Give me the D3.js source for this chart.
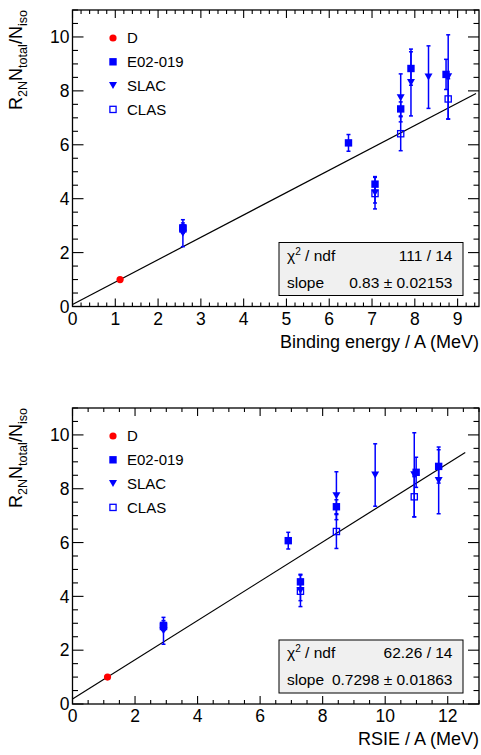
<!DOCTYPE html>
<html><head><meta charset="utf-8">
<script src="https://cdn.jsdelivr.net/npm/d3@7"></script>
<style>
body{margin:0;background:#fff}
text{font-family:"Liberation Sans",Arial,Helvetica,sans-serif;fill:#000}
</style>
</head><body>
<svg id="chart" width="481" height="755"></svg>
<script>
// ---------------- DATA ----------------
const seriesNames = ["D", "E02-019", "SLAC", "CLAS"];

const D_nuclei   = ["D"];
const D_binding  = [1.112];
const D_rsie     = [1.12];
const D_value    = [1.0];
const D_err      = [0.0];

const E02_nuclei  = ["3He", "4He", "Be", "C", "Cu", "Au"];
const E02_binding = [2.58, 7.07, 6.45, 7.67, 8.73, 7.91];
const E02_rsie    = [2.91, 7.29, 6.90, 8.44, 10.99, 11.71];
const E02_value   = [2.92, 4.54, 6.07, 7.33, 8.61, 8.83];
const E02_err     = [0.18, 0.25, 0.31, 0.26, 0.56, 0.62];

const SLAC_nuclei  = ["3He", "4He", "C", "Al", "Fe", "Au"];
const SLAC_binding = [2.58, 7.07, 7.67, 8.32, 8.78, 7.91];
const SLAC_rsie    = [2.91, 7.29, 8.44, 9.68, 10.93, 11.71];
const SLAC_value   = [2.72, 4.22, 7.74, 8.51, 8.52, 8.31];
const SLAC_err     = [0.50, 0.60, 0.89, 1.16, 1.56, 1.24];

const CLAS_nuclei  = ["3He", "4He", "C", "Fe"];
const CLAS_binding = [2.58, 7.07, 7.67, 8.78];
const CLAS_rsie    = [2.91, 7.29, 8.44, 10.93];
const CLAS_value   = [2.88, 4.19, 6.41, 7.70];
const CLAS_err     = [0.15, 0.35, 0.63, 0.75];

// fit: y = 1 + slope * (x - x_D)
const fitSlope   = [0.83, 0.7298];
const fitAnchorX = [1.112, 1.12];
const fitXmin    = [0, 0];
const fitXmax    = [9.43, 12.56];

const statChi2   = ["111 / 14", "62.26 / 14"];
const statSlope  = ["0.83 \u00b1 0.02153", "0.7298 \u00b1 0.01863"];

const xTitles    = ["Binding energy / A (MeV)", "RSIE / A (MeV)"];
const xDomains   = [[0, 9.5], [0, 13]];
const xMajor     = [[0,1,2,3,4,5,6,7,8,9], [0,2,4,6,8,10,12]];
const xMinorStep = [0.2, 0.5];
const yDomain    = [0, 11];
const yMajor     = [0, 2, 4, 6, 8, 10];
const yMinorStep = 0.5;

// ---------------- DRAW ----------------
const svg = d3.select("#chart");
const FONT_TICK = 17.5, FONT_TITLE = 18, FONT_LEG = 15, FONT_STAT = 15.5;
const panels = [
  {left: 72.5, right: 479, top: 10,  bottom: 306.5},
  {left: 72.5, right: 479, top: 408, bottom: 704}
];

function seriesFor(p) {
  const xs = p === 0 ? [D_binding, E02_binding, SLAC_binding, CLAS_binding]
                     : [D_rsie, E02_rsie, SLAC_rsie, CLAS_rsie];
  const vals = [D_value, E02_value, SLAC_value, CLAS_value];
  const errs = [D_err, E02_err, SLAC_err, CLAS_err];
  const nuc = [D_nuclei, E02_nuclei, SLAC_nuclei, CLAS_nuclei];
  return seriesNames.map((name, i) => ({
    name,
    pts: nuc[i].map((n, j) => ({n, x: xs[i][j], y: vals[i][j], e: errs[i][j]}))
  }));
}

function minorTicks(domain, step) {
  const out = [];
  for (let v = domain[0]; v <= domain[1] + 1e-9; v += step) out.push(+v.toFixed(4));
  return out;
}

const markerStyle = {
  "D":       {shape: "circle",   color: "#ff0000", fill: true},
  "E02-019": {shape: "square",   color: "#0000ff", fill: true},
  "SLAC":    {shape: "triangle", color: "#0000ff", fill: true},
  "CLAS":    {shape: "square",   color: "#0000ff", fill: false}
};

function drawMarker(g, name, cx, cy) {
  const st = markerStyle[name];
  if (st.shape === "circle") {
    g.append("circle").attr("cx", cx).attr("cy", cy).attr("r", 3.6).attr("fill", st.color);
  } else if (st.shape === "square") {
    const s = 7.4;
    if (st.fill) g.append("rect").attr("x", cx - s/2).attr("y", cy - s/2).attr("width", s).attr("height", s).attr("fill", st.color);
    else g.append("rect").attr("x", cx - s/2 + 0.6).attr("y", cy - s/2 + 0.6).attr("width", s - 1.2).attr("height", s - 1.2)
           .attr("fill", "none").attr("stroke", st.color).attr("stroke-width", 1.3);
  } else {
    const w = 8, h = 7;
    g.append("path").attr("d", `M${cx - w/2},${cy - h/2}L${cx + w/2},${cy - h/2}L${cx},${cy + h/2}Z`).attr("fill", st.color);
  }
}

panels.forEach((P, p) => {
  const x = d3.scaleLinear().domain(xDomains[p]).range([P.left, P.right]);
  const y = d3.scaleLinear().domain(yDomain).range([P.bottom, P.top]);
  const g = svg.append("g");

  const xmin = minorTicks(xDomains[p], xMinorStep[p]);
  const ymin = minorTicks(yDomain, yMinorStep);
  const XMAJ = 8, XMIN = 4, YMAJ = 11, YMIN = 5.5;

  const ax = g.append("g").attr("stroke", "#000").attr("stroke-width", 1.1);
  xmin.forEach(v => {
    const isMaj = xMajor[p].some(m => Math.abs(m - v) < 1e-6);
    const L = isMaj ? XMAJ : XMIN;
    ax.append("line").attr("x1", x(v)).attr("x2", x(v)).attr("y1", P.bottom).attr("y2", P.bottom - L);
    ax.append("line").attr("x1", x(v)).attr("x2", x(v)).attr("y1", P.top).attr("y2", P.top + L);
  });
  ymin.forEach(v => {
    const isMaj = yMajor.some(m => Math.abs(m - v) < 1e-6);
    const L = isMaj ? YMAJ : YMIN;
    ax.append("line").attr("y1", y(v)).attr("y2", y(v)).attr("x1", P.left).attr("x2", P.left + L);
    ax.append("line").attr("y1", y(v)).attr("y2", y(v)).attr("x1", P.right).attr("x2", P.right - L);
  });

  g.append("rect").attr("x", P.left).attr("y", P.top).attr("width", P.right - P.left).attr("height", P.bottom - P.top)
    .attr("fill", "none").attr("stroke", "#000").attr("stroke-width", 1.3);

  xMajor[p].forEach(v => {
    g.append("text").attr("x", x(v)).attr("y", P.bottom + 18).attr("text-anchor", "middle")
      .attr("font-size", FONT_TICK).text(v);
  });
  yMajor.forEach(v => {
    g.append("text").attr("x", P.left - 3).attr("y", y(v) + 6.3).attr("text-anchor", "end")
      .attr("font-size", FONT_TICK).text(v);
  });

  g.append("text").attr("x", P.right).attr("y", P.bottom + 41).attr("text-anchor", "end")
    .attr("font-size", FONT_TITLE).text(xTitles[p]);
  const yt = g.append("text").attr("transform", `translate(22,${P.top}) rotate(-90)`)
    .attr("text-anchor", "end").attr("font-size", FONT_TITLE);
  const parts = [["R",0],["2N",1],["N",0],["total",1],["/N",0],["iso",1]];
  let shifted = false;
  parts.forEach(([t, sub]) => {
    const ts = yt.append("tspan").text(t);
    if (sub) { ts.attr("font-size", FONT_TITLE * 0.7).attr("dy", shifted ? 0 : 5); shifted = true; }
    else { ts.attr("font-size", FONT_TITLE).attr("dy", shifted ? -5 : 0); shifted = false; }
  });

  const f = xv => 1 + fitSlope[p] * (xv - fitAnchorX[p]);
  g.append("path").datum([fitXmin[p], fitXmax[p]])
    .attr("d", d3.line().x(d => x(d)).y(d => y(f(d))))
    .attr("stroke", "#000").attr("stroke-width", 1.2).attr("fill", "none");

  const series = seriesFor(p);
  series.forEach(s => {
    const col = markerStyle[s.name].color;
    s.pts.forEach(d => {
      if (d.e > 0) {
        const eg = g.append("g").attr("stroke", col).attr("stroke-width", 1.5);
        eg.append("line").attr("x1", x(d.x)).attr("x2", x(d.x)).attr("y1", y(d.y - d.e)).attr("y2", y(d.y + d.e));
        eg.append("line").attr("x1", x(d.x) - 2).attr("x2", x(d.x) + 2).attr("y1", y(d.y - d.e)).attr("y2", y(d.y - d.e));
        eg.append("line").attr("x1", x(d.x) - 2).attr("x2", x(d.x) + 2).attr("y1", y(d.y + d.e)).attr("y2", y(d.y + d.e));
      }
    });
  });
  series.forEach(s => {
    s.pts.forEach(d => drawMarker(g, s.name, x(d.x), y(d.y)));
  });

  seriesNames.forEach((name, i) => {
    const ly = P.top + 28 + i * 23.8;
    drawMarker(g, name, 113, ly);
    g.append("text").attr("x", 127).attr("y", ly + 5.3).attr("font-size", FONT_LEG).text(name);
  });

  const bx0 = 279, bx1 = 463, by0 = P.bottom - 64, by1 = P.bottom - 11;
  g.append("rect").attr("x", bx0).attr("y", by0).attr("width", bx1 - bx0).attr("height", by1 - by0)
    .attr("fill", "#f0f0f0").attr("stroke", "#000").attr("stroke-width", 1);
  const t1 = g.append("text").attr("x", bx0 + 8).attr("y", by0 + 18).attr("font-size", FONT_STAT);
  t1.append("tspan").text("\u03c7");
  t1.append("tspan").attr("font-size", FONT_STAT * 0.65).attr("dy", -6).text("2");
  t1.append("tspan").attr("dy", 6).text(" / ndf");
  g.append("text").attr("x", bx1 - 10.5).attr("y", by0 + 18).attr("text-anchor", "end")
    .attr("font-size", FONT_STAT).text(statChi2[p]);
  g.append("text").attr("x", bx0 + 8).attr("y", by0 + 45).attr("font-size", FONT_STAT).text("slope");
  g.append("text").attr("x", bx1 - 10.5).attr("y", by0 + 45).attr("text-anchor", "end")
    .attr("font-size", FONT_STAT).text(statSlope[p]);
});
</script>
</body></html>
